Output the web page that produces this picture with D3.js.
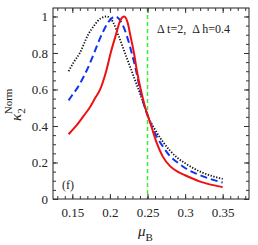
<!DOCTYPE html>
<html lang="en">
<head>
<meta charset="UTF-8">
<title>kappa2 norm</title>
<script src="https://cdnjs.cloudflare.com/ajax/libs/d3/7.8.5/d3.min.js"></script>
<style>
  body { margin: 0; background: #fff; }
  svg text { font-family: "Liberation Serif", "DejaVu Serif", serif; fill: #222; }
</style>
</head>
<body>
<svg width="258" height="245"></svg>
<script>
    // values
    const redMu   = [0.145, 0.155, 0.165, 0.173, 0.180, 0.187, 0.195, 0.201, 0.208, 0.214, 0.219, 0.224, 0.227, 0.232, 0.236, 0.241, 0.247, 0.255, 0.262, 0.270, 0.280, 0.290, 0.300, 0.320, 0.350];
    const redK    = [0.355, 0.40, 0.455, 0.50, 0.55, 0.60, 0.70, 0.80, 0.90, 0.98, 1.0, 0.96, 0.90, 0.80, 0.70, 0.60, 0.50, 0.40, 0.31, 0.235, 0.18, 0.15, 0.13, 0.095, 0.065];
    const blueMu  = [0.145, 0.150, 0.157, 0.165, 0.172, 0.179, 0.189, 0.198, 0.207, 0.215, 0.222, 0.229, 0.235, 0.240, 0.245, 0.250, 0.260, 0.270, 0.280, 0.290, 0.300, 0.320, 0.350];
    const blueK   = [0.54, 0.57, 0.61, 0.67, 0.73, 0.80, 0.90, 0.97, 1.0, 0.97, 0.90, 0.80, 0.70, 0.60, 0.52, 0.46, 0.36, 0.29, 0.235, 0.20, 0.17, 0.13, 0.09];
    const blackMu = [0.145, 0.152, 0.160, 0.171, 0.179, 0.188, 0.196, 0.204, 0.211, 0.220, 0.229, 0.238, 0.245, 0.250, 0.260, 0.270, 0.280, 0.290, 0.300, 0.320, 0.350];
    const blackK  = [0.70, 0.75, 0.80, 0.90, 0.95, 0.99, 1.0, 0.97, 0.90, 0.80, 0.70, 0.60, 0.52, 0.46, 0.38, 0.316, 0.265, 0.225, 0.196, 0.15, 0.11];
    const markerMu = 0.25;
    const xTicks = [0.15, 0.2, 0.25, 0.3, 0.35];
    const yTicks = [0, 0.2, 0.4, 0.6, 0.8, 1];

    const svg = d3.select("svg");
    const mLeft = 53, mRight = 249, mTop = 8, mBottom = 199;

    const x = d3.scaleLinear().domain([0.1243, 0.385]).range([mLeft, mRight]);
    const y = d3.scaleLinear().domain([0, 1.0464]).range([mBottom, mTop]);

    const line = d3.line()
        .x(d => x(d[0]))
        .y(d => y(d[1]))
        .curve(d3.curveMonotoneX);

    svg.append("clipPath").attr("id", "clip")
        .append("rect").attr("x", mLeft).attr("y", mTop)
        .attr("width", mRight - mLeft).attr("height", mBottom - mTop);

    const plot = svg.append("g").attr("clip-path", "url(#clip)");

    plot.append("line")
        .attr("x1", x(markerMu)).attr("x2", x(markerMu))
        .attr("y1", mTop).attr("y2", mBottom)
        .attr("stroke", "#33ee33")
        .attr("stroke-width", 1.5)
        .attr("stroke-dasharray", "4,3");

    const series = [
        { mu: blackMu, k: blackK, color: "#111", width: 1.8, dash: "1.3,1.6" },
        { mu: blueMu, k: blueK, color: "#1133ee", width: 2, dash: "7,4" },
        { mu: redMu, k: redK, color: "#ee1111", width: 2, dash: null }
    ];

    series.forEach(s => {
        plot.append("path")
            .datum(d3.zip(s.mu, s.k))
            .attr("d", line)
            .attr("fill", "none")
            .attr("stroke", s.color)
            .attr("stroke-width", s.width)
            .attr("stroke-dasharray", s.dash);
    });

    // frame and inward ticks
    svg.append("rect")
        .attr("x", mLeft).attr("y", mTop)
        .attr("width", mRight - mLeft).attr("height", mBottom - mTop)
        .attr("fill", "none").attr("stroke", "#222").attr("stroke-width", 1);

    const xMinor = d3.range(0.13, 0.381, 0.01).map(v => +v.toFixed(3));
    const yMinor = d3.range(0, 1.04, 0.05).map(v => +v.toFixed(3));

    function minorTicks(axisFn, scale, vals, size) {
        return axisFn(scale).tickValues(vals).tickSizeInner(size).tickSizeOuter(0).tickFormat("");
    }

    svg.append("g").attr("transform", `translate(0,${mBottom})`).call(minorTicks(d3.axisBottom, x, xMinor, -3));
    svg.append("g").attr("transform", `translate(0,${mTop})`).call(minorTicks(d3.axisTop, x, xMinor, -3));
    svg.append("g").attr("transform", `translate(${mLeft},0)`).call(minorTicks(d3.axisLeft, y, yMinor, -3));
    svg.append("g").attr("transform", `translate(${mRight},0)`).call(minorTicks(d3.axisRight, y, yMinor, -3));

    svg.append("g").attr("class", "xaxis").attr("transform", `translate(0,${mBottom})`)
        .call(d3.axisBottom(x).tickValues(xTicks).tickSizeInner(-5).tickSizeOuter(0).tickPadding(9).tickFormat(d => String(d)));
    svg.append("g").attr("transform", `translate(0,${mTop})`)
        .call(d3.axisTop(x).tickValues(xTicks).tickSizeInner(-5).tickSizeOuter(0).tickFormat(""));
    svg.append("g").attr("class", "yaxis").attr("transform", `translate(${mLeft},0)`)
        .call(d3.axisLeft(y).tickValues(yTicks).tickSizeInner(-5).tickSizeOuter(0).tickPadding(9).tickFormat(d => String(d)));
    svg.append("g").attr("transform", `translate(${mRight},0)`)
        .call(d3.axisRight(y).tickValues(yTicks).tickSizeInner(-5).tickSizeOuter(0).tickFormat(""));

    svg.selectAll(".domain").remove();
    svg.selectAll(".tick line").attr("stroke", "#333");
    svg.selectAll(".tick text").attr("font-size", 13).attr("font-family", "Liberation Serif").attr("fill", "#222");
    svg.selectAll(".yaxis .tick text").attr("dx", 4);

    // annotations
    svg.append("text")
        .attr("x", 157).attr("y", 33)
        .attr("font-size", 12)
        .attr("xml:space", "preserve")
        .text("\u0394 t=2,  \u0394 h=0.4");

    svg.append("text")
        .attr("x", 62).attr("y", 189)
        .attr("font-size", 12)
        .text("(f)");

    const xl = svg.append("text")
        .attr("x", 138).attr("y", 236)
        .attr("font-size", 15);
    xl.append("tspan").attr("font-style", "italic").text("\u03bc");
    xl.append("tspan").attr("font-size", 11).attr("dy", 5).text("B");

    const yl = svg.append("text")
        .attr("transform", "translate(21,121) rotate(-90)")
        .attr("font-size", 15);
    yl.append("tspan").attr("font-style", "italic").text("\u03ba");
    yl.append("tspan").attr("font-size", 11).attr("dy", 4).text("2");
    yl.append("tspan").attr("font-size", 11).attr("dx", -6).attr("dy", -13).text("Norm");
</script>
</body>
</html>
